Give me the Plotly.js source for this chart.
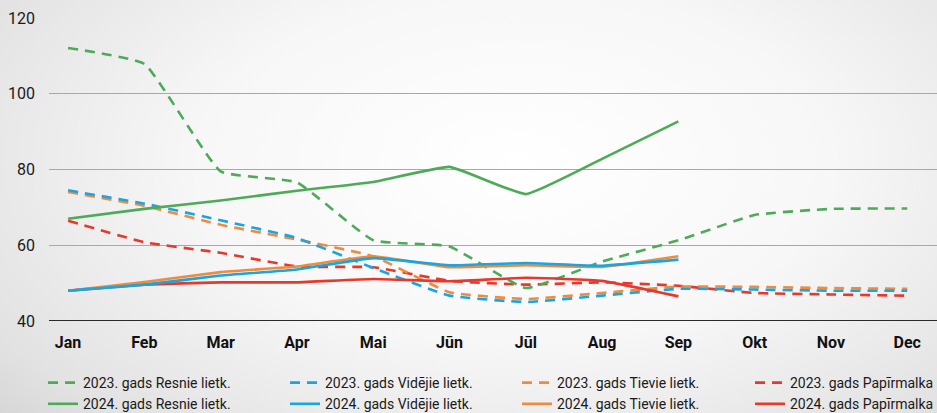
<!DOCTYPE html>
<html>
<head>
<meta charset="utf-8">
<script src="https://cdn.plot.ly/plotly-3.0.1.min.js"></script>
<style>
  html, body { margin: 0; padding: 0; }
  body {
    width: 937px; height: 413px; overflow: hidden;
    background: radial-gradient(ellipse 75% 95% at 55% 40%, #ffffff 0%, #f7f7f7 45%, #e2e2e2 85%, #d4d4d4 100%);
  }
  #chart { width: 937px; height: 413px; }
</style>
</head>
<body>
<div id="chart"></div>
<script>
const months = ['Jan', 'Feb', 'Mar', 'Apr', 'Mai', 'Jūn', 'Jūl', 'Aug', 'Sep', 'Okt', 'Nov', 'Dec'];
const yTicks = [40, 60, 80, 100, 120];

const resnie2023   = [112.1, 107.9, 79.5, 76.6, 61.3, 59.7, 48.7, 55.7, 61.3, 68.0, 69.6, 69.7];
const videjie2023  = [74.5, 71.0, 66.6, 61.9, 54.0, 46.7, 45.0, 46.7, 48.5, 48.3, 48.0, 48.0];
const tievie2023   = [74.1, 70.4, 65.4, 61.5, 57.1, 47.6, 45.8, 47.4, 49.1, 49.0, 48.7, 48.5];
const papirm2023   = [66.5, 60.8, 58.0, 54.4, 54.2, 50.6, 49.6, 50.2, 49.3, 47.4, 47.0, 46.7];
const resnie2024   = [67.0, 69.6, 71.8, 74.4, 76.7, 80.7, 73.5, 82.8, 92.7];
const videjie2024  = [48.0, 49.6, 52.0, 53.6, 56.6, 54.7, 55.3, 54.6, 56.2];
const tievie2024   = [48.0, 50.3, 52.9, 54.4, 57.1, 54.2, 54.7, 54.3, 57.1];
const papirm2024   = [48.0, 49.6, 50.2, 50.2, 51.1, 50.5, 51.4, 50.6, 46.5];

const names = [
  '2023. gads Resnie lietk.', '2023. gads Vidējie lietk.', '2023. gads Tievie lietk.', '2023. gads Papīrmalka',
  '2024. gads Resnie lietk.', '2024. gads Vidējie lietk.', '2024. gads Tievie lietk.', '2024. gads Papīrmalka'
];
const series = [resnie2023, videjie2023, tievie2023, papirm2023, resnie2024, videjie2024, tievie2024, papirm2024];
const colors = ['#4dab58', '#17a6df', '#f08a3c', '#e8382b'];
const legendIds = ['legend', 'legend2', 'legend3', 'legend4'];
// drawing order (later = on top)
const drawOrder = [3, 2, 0, 1, 7, 6, 4, 5];

const FONT = "Roboto, 'Liberation Sans', sans-serif";

const traces = drawOrder.map(i => {
  const vals = series[i];
  return {
    type: 'scatter',
    mode: 'lines',
    name: names[i],
    legend: legendIds[i % 4],
    legendrank: i + 1,
    x: months.slice(0, vals.length),
    y: vals,
    line: {
      color: colors[i % 4],
      width: 2.6,
      dash: i < 4 ? '10px,7px' : 'solid',
      shape: 'spline',
      smoothing: 0.35
    },
    hoverinfo: 'x+y+name'
  };
});

function makeLegend(left) {
  return {
    orientation: 'v',
    xref: 'container', yref: 'container',
    x: left / 937, xanchor: 'left',
    y: 1 - 367 / 413, yanchor: 'top',
    tracegroupgap: 0,
    itemwidth: 30,
    traceorder: 'normal',
    bgcolor: 'rgba(0,0,0,0)',
    borderwidth: 0,
    font: { family: FONT, size: 14, color: '#1a1a1a' }
  };
}

const layout = {
  width: 937,
  height: 413,
  margin: { l: 49, r: 0, t: 18, b: 92, autoexpand: false },
  paper_bgcolor: 'rgba(0,0,0,0)',
  plot_bgcolor: 'rgba(0,0,0,0)',
  font: { family: FONT, color: '#1a1a1a' },
  showlegend: true,
  xaxis: {
    type: 'category',
    categoryorder: 'array',
    categoryarray: months,
    range: [-0.25, 11.39],
    showgrid: false,
    zeroline: false,
    showline: false,
    ticks: '',
    ticklabelstandoff: 10,
    tickfont: { family: FONT, size: 16, weight: 'bold', color: '#111' },
    fixedrange: true
  },
  yaxis: {
    range: [40, 120],
    tickvals: yTicks,
    ticktext: yTicks.map(String),
    showgrid: true,
    gridcolor: '#a8a8a8',
    gridwidth: 1.2,
    zeroline: false,
    showline: false,
    ticks: '',
    ticklabelstandoff: 13,
    tickfont: { family: FONT, size: 16, color: '#1a1a1a' },
    fixedrange: true
  },
  shapes: [{
    type: 'line', xref: 'paper', yref: 'y',
    x0: 0, x1: 1, y0: 40, y1: 40,
    line: { color: '#2a2a2a', width: 2 }
  }],
  legend: makeLegend(43),
  legend2: makeLegend(285),
  legend3: makeLegend(517),
  legend4: makeLegend(750)
};

Plotly.newPlot('chart', traces, layout, { displayModeBar: false });
</script>
</body>
</html>
